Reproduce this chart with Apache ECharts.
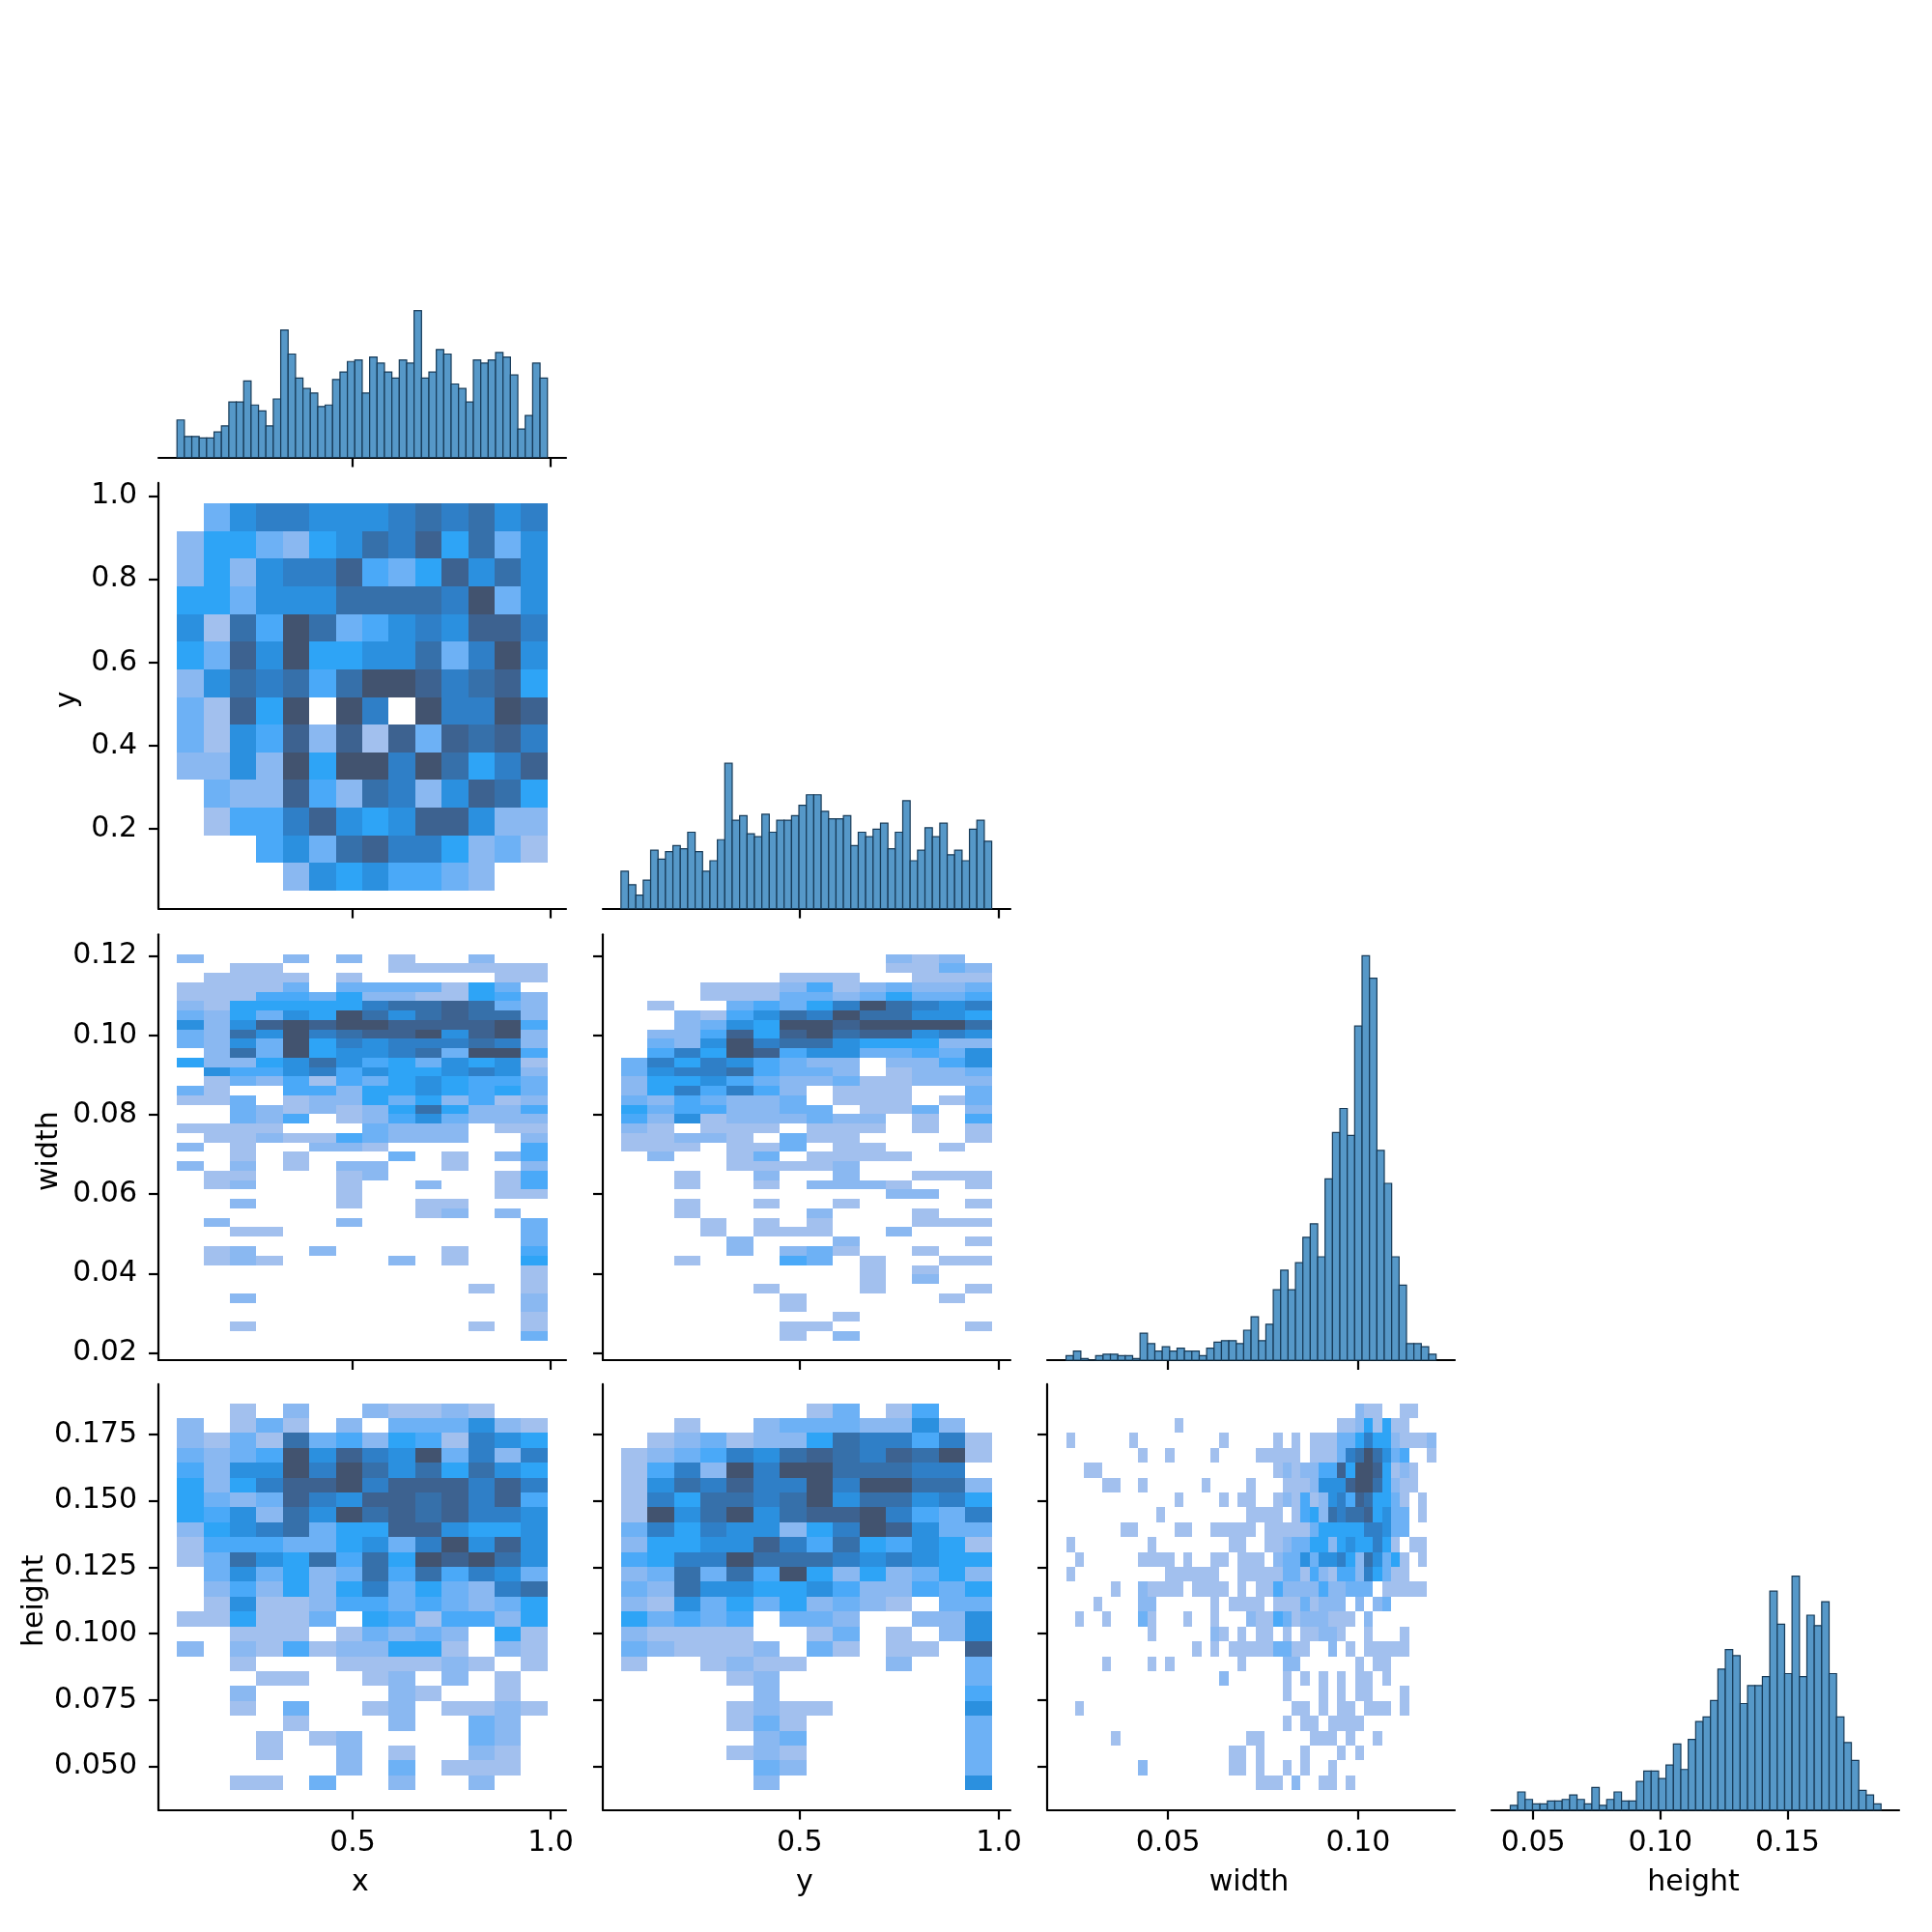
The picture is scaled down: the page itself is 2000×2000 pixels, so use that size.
<!DOCTYPE html>
<html><head><meta charset="utf-8">
<style>html,body{margin:0;padding:0;background:#fff}#c{width:2000px;height:2000px}</style>
<script src="https://cdn.jsdelivr.net/npm/echarts@6/dist/echarts.min.js"></script>
</head><body><div id="c"></div>
<script>
// Histogram counts (50 bins each)
const xCounts = [25,14,14,13,13,17,21,37,37,51,35,31,21,39,85,69,53,46,43,34,35,52,57,64,65,43,67,63,57,53,65,63,98,53,57,72,69,49,46,37,65,63,65,70,67,55,19,28,63,53];
const yCounts = [25,16,9,19,39,33,38,42,40,51,38,25,32,46,97,59,62,50,48,63,51,59,59,62,69,76,76,65,60,60,62,42,51,48,53,57,40,51,72,32,39,54,48,57,36,39,32,53,59,45];
const widthCounts = [3,6,1,0,3,4,4,3,3,1,18,11,6,9,6,8,6,6,3,8,12,13,13,11,20,29,13,24,47,60,47,65,82,91,69,121,152,168,150,223,270,255,140,118,69,50,11,11,9,4];
const heightCounts = [3,12,7,4,4,6,6,7,10,7,4,15,3,7,12,6,6,19,26,26,21,30,44,27,47,59,62,73,94,107,103,71,83,83,89,146,124,91,156,89,130,123,139,91,62,45,33,13,10,4];

// Bivariate cell levels (hex digit, 0 = empty, a = densest), rows listed from the top
const yByX = ["03677666787867","25532568795836","25267794359686","55366688887a36","6184a834676997","5396a5566837a6","2687848aa97895","3195a0a70a77a9","31649291939897","2262a5aa7a8579","03229428726985","01447965699622","00046389775231","00002656443200"];
const widthByX = ["20002020100200","00110000111111","01111010000011","11113033331530","11144352211542","21555557889832","325365a8689882","6269a9aa9999a4","3286a7899a69a2","3263a576777872","0283a566783aa4","52256864536561","06446746556762","01324143565443","31004425565453","11301225352412","00321212585224","00324012463222","11110003222011","01121143222002","20100221000004","00101000301024","20201022001002","01100012000014","01200010020014","00000010000011","00200010011000","00000000012020","02000020000003","00110000000003","00000000000003","01200200001004","01210000201005","00000000000001","00000000000001","00000000000101","00200000000002","00000000000002","00000000000001","00100000000101","00000000000003"];
const widthByY = ["00000000002120","00000000001132","00000011100111","00011124123223","00011133235334","010034357a8767","00214687a88665","002365aa9aaaa8","0224959a899676","0326a788655522","0475a946633436","37576432202246","36778433201223","25564322311222","25747420111003","32432230111013","53442233011302","42612223220104","21011101110101","11221031100001","11101130110010","02001301111000","00001111200000","00100200200111","00100102221001","00000000002200","00100100100001","00100002000100","00010101000111","00010111002000","00002000200001","00002023100100","00100043010011","00000000010100","00000000010200","00000100010001","00000010000010","00000010000000","00000000100000","00000011000001","00000010200000"];
const heightByX = ["00102002112100","20131020333621","21318342541765","3234a6976a3727","4266a7a8685865","525799a7999797","53239769989794","546286a8989776","25678355996556","1444335637a696","138658485a9a86","03635238484763","02425257353278","01611244343235","11511305414425","00111013232051","20214122551021","00100011112101","00011001202010","00200000210010","00103001201121","00001000200320","00010120000320","00010020100210","00000020301110","00110300200200"];
const heightByY = ["00000001301400","00100233322620","01231225877471","123476898798a1","1472a7aa888770","1687977a7aa882","1758878a688675","1a68a6899a7437","375766257a9633","25566974854651","4577a888767655","238384a5252352","32866556422435","21635352321033","53434033200226","21111001301026","32111203101109","10012110002003","00001200000003","00000200000004","00001211000006","00001310000003","00000230000003","00001210000003","00000320000003","00000200000006"];
// width (41 columns) against height: [first column, levels] runs, rows from the top
const heightByWidth = [
[[32,"211"],[37,"11"]],
[[12,"1"],[30,"11251511"]],
[[0,"1"],[7,"1"],[17,"1"],[23,"1"],[25,"1"],[27,"11133575521112"]],
[[8,"1"],[11,"1"],[16,"1"],[21,"11111"],[27,"111378a8634"],[40,"1"]],
[[2,"11"],[23,"121224495aa95121"]],
[[4,"11"],[8,"1"],[15,"1"],[20,"1"],[24,"11126669aa85211"]],
[[12,"1"],[17,"1"],[19,"11"],[23,"121412674985531"],[39,"1"]],
[[10,"1"],[20,"1111"],[25,"1452878895633"],[39,"1"]],
[[6,"11"],[12,"11"],[16,"11111"],[22,"1111135555577633"]],
[[0,"1"],[9,"1"],[18,"11"],[22,"112335525655751"],[38,"11"]],
[[1,"1"],[8,"1111"],[13,"1"],[16,"11"],[19,"111"],[23,"233636675286351"],[39,"1"]],
[[0,"1"],[11,"111111"],[19,"1111133142144275311"]],
[[5,"1"],[8,"21111"],[14,"1111"],[19,"1"],[21,"1142222422333"],[35,"11111"]],
[[3,"1"],[8,"22"],[16,"1"],[18,"1111"],[23,"1113122202023"]],
[[1,"1"],[4,"1"],[8,"31"],[13,"1"],[16,"1"],[20,"21143122211102"]],
[[9,"1"],[16,"21"],[19,"1"],[21,"11"],[24,"1"],[26,"11221"],[33,"1"],[37,"1"]],
[[14,"1"],[16,"1"],[18,"111113311"],[29,"2"],[31,"1"],[33,"11111"]],
[[4,"1"],[9,"1"],[11,"1"],[19,"1"],[24,"22"],[32,"1"],[34,"11"]],
[[17,"2"],[24,"1"],[26,"1"],[28,"1"],[30,"1"],[32,"11"],[35,"1"]],
[[24,"1"],[28,"1"],[30,"1"],[32,"11"],[37,"1"]],
[[1,"1"],[25,"11"],[28,"1"],[30,"11"],[33,"111"],[37,"1"]],
[[24,"1"],[26,"11"],[29,"1111"]],
[[5,"1"],[20,"11"],[27,"111"],[31,"1"],[34,"1"]],
[[18,"11"],[21,"1"],[26,"1"],[30,"1"],[32,"1"]],
[[8,"2"],[18,"11"],[21,"1"],[24,"1"],[26,"1"],[29,"1"]],
[[21,"111"],[25,"2"],[28,"11"],[31,"1"]]
];
const heightByWidthRows = heightByWidth.map(runs => {
  const r = new Array(41).fill("0");
  runs.forEach(([s, t]) => [...t].forEach((c, i) => { r[s + i] = c; }));
  return r.join("");
});

// Variables: axis range, data range, ticks
const vars = {
  x:      {label:"x",      axis:[0.00976,1.0390], data:[0.0566,0.992],   ticks:[0.5,1.0], dec:1},
  y:      {label:"y",      axis:[0.006,1.029], vaxis:[0.0085,1.0315], data:[0.0517,0.982],   ticks:[0.2,0.4,0.6,0.8,1.0], xticks:[0.5,1.0], dec:1},
  width:  {label:"width",  axis:[0.0182,0.1254],  data:[0.02317,0.12048],ticks:[0.02,0.04,0.06,0.08,0.10,0.12], xticks:[0.05,0.10], dec:2},
  height: {label:"height", axis:[0.0336,0.1939],  data:[0.04099,0.18677],ticks:[0.050,0.075,0.100,0.125,0.150,0.175], xticks:[0.05,0.10,0.15], dec:3, xdec:2}
};
const order = ["x","y","width","height"];
const countMax = 284.2;

const palette = ["#ffffff","#a2c0ee","#8ab8f1","#6db1f5","#4aa9f8","#2ea4f6","#2b90df","#2f7fc7","#3670aa","#3d6290","#42536f"];
const ink = "#000000", font = "DejaVu Sans", fs = 30;
const colLeft = [164,624,1084,1544], colW = 422;
const rowBottom = [473.5,940.6,1408,1873.6], rowH = 440.7;
const yNameGap = {y:79, width:98, height:113};

const grids = [], xAxes = [], yAxes = [], series = [];
function addAxes(r, c) {
  const i = grids.length, xv = vars[order[c]], yv = vars[order[r]];
  grids.push({left:colLeft[c], top:rowBottom[r]-rowH, width:colW, height:rowH});
  const xt = xv.xticks || xv.ticks, xd = xv.xdec !== undefined ? xv.xdec : xv.dec, bottom = r === 3;
  xAxes.push({type:"value", gridIndex:i, min:xv.axis[0], max:xv.axis[1], scale:true, splitLine:{show:false},
    axisLine:{show:true,onZero:false,lineStyle:{color:ink,width:2.2}},
    axisTick:{show:true,length:10,lineStyle:{color:ink,width:2.2},customValues:xt},
    axisLabel:{show:bottom,color:ink,fontFamily:font,fontSize:fs,margin:20,customValues:xt,formatter:v=>v.toFixed(xd)},
    name:bottom?xv.label:"", nameLocation:"middle", nameGap:61, nameTextStyle:{color:ink,fontFamily:font,fontSize:fs,padding:[0,4,0,0]}});
  const diag = r === c, yr = yv.vaxis || yv.axis;
  yAxes.push(diag
    ? {type:"value", gridIndex:i, min:0, max:countMax, show:false, splitLine:{show:false}}
    : {type:"value", gridIndex:i, min:yr[0], max:yr[1], scale:true, splitLine:{show:false},
       axisLine:{show:true,onZero:false,lineStyle:{color:ink,width:2.2}},
       axisTick:{show:true,length:10,lineStyle:{color:ink,width:2.2},customValues:yv.ticks},
       axisLabel:{show:c===0,color:ink,fontFamily:font,fontSize:fs,margin:22,padding:[2,0,0,0],customValues:yv.ticks,formatter:v=>v.toFixed(yv.dec)},
       name:c===0?yv.label:"", nameLocation:"middle", nameGap:yNameGap[yv.label], nameRotate:90, nameTextStyle:{color:ink,fontFamily:font,fontSize:fs,padding:[0,8,0,0]}});
  return i;
}
function hist(r, counts) {
  const i = addAxes(r, r), d = vars[order[r]].data, w = (d[1]-d[0])/counts.length;
  series.push({type:"custom", xAxisIndex:i, yAxisIndex:i, silent:true, clip:false,
    data:counts.map((n,k)=>[d[0]+k*w, d[0]+(k+1)*w, n]),
    encode:{x:[0,1],y:2},
    renderItem:(p,api)=>{
      const a=api.coord([api.value(0),api.value(2)]), b=api.coord([api.value(1),0]);
      return {type:"rect",shape:{x:a[0],y:a[1],width:b[0]-a[0],height:b[1]-a[1]},
        style:{fill:"#5698c8",stroke:"#173a57",lineWidth:1.2}};
    }});
}
function heat(r, c, rows) {
  const i = addAxes(r, c), xd = vars[order[c]].data, yd = vars[order[r]].data;
  const nr = rows.length, nc = rows[0].length, dx=(xd[1]-xd[0])/nc, dy=(yd[1]-yd[0])/nr, data=[];
  rows.forEach((row,ri)=>{ [...row].forEach((ch,ci)=>{
    const lv=parseInt(ch,16);
    if(lv>0) data.push([xd[0]+ci*dx, xd[0]+(ci+1)*dx, yd[1]-(ri+1)*dy, yd[1]-ri*dy, lv]);
  });});
  series.push({type:"custom", xAxisIndex:i, yAxisIndex:i, silent:true, clip:false, data,
    encode:{x:[0,1],y:[2,3]},
    renderItem:(p,api)=>{
      const a=api.coord([api.value(0),api.value(3)]), b=api.coord([api.value(1),api.value(2)]);
      const x0=Math.round(a[0]),y0=Math.round(a[1]),x1=Math.round(b[0]),y1=Math.round(b[1]);
      return {type:"rect",shape:{x:x0,y:y0,width:x1-x0,height:y1-y0},style:{fill:palette[api.value(4)]}};
    }});
}
hist(0,xCounts);
heat(1,0,yByX); hist(1,yCounts);
heat(2,0,widthByX); heat(2,1,widthByY); hist(2,widthCounts);
heat(3,0,heightByX); heat(3,1,heightByY); heat(3,2,heightByWidthRows); hist(3,heightCounts);

const chart = echarts.init(document.getElementById("c"),null,{renderer:"canvas",width:2000,height:2000});
chart.setOption({animation:false,backgroundColor:"#ffffff",grid:grids,xAxis:xAxes,yAxis:yAxes,series});
</script></body></html>
